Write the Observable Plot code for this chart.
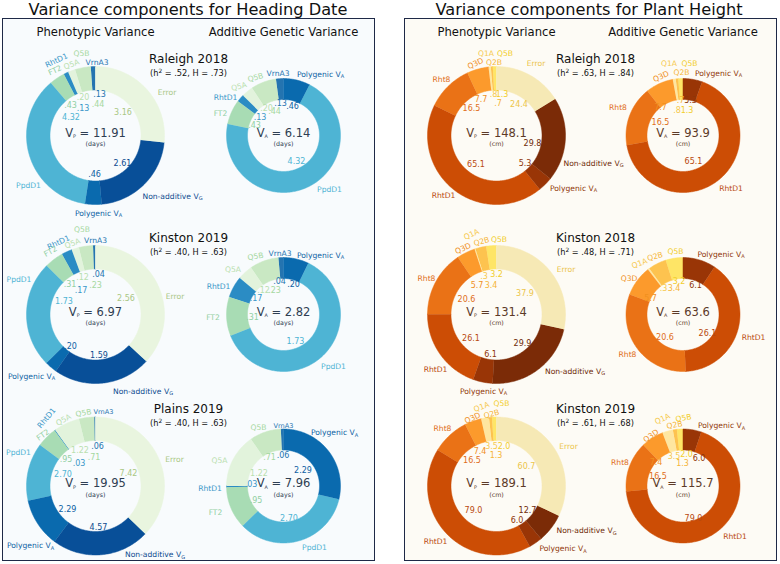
<!DOCTYPE html>
<html><head><meta charset="utf-8">
<script src="https://cdn.jsdelivr.net/npm/d3@7"></script>
<script src="https://cdn.jsdelivr.net/npm/@observablehq/plot@0.6"></script>
<style>
body{margin:0;background:#fff;font-family:"DejaVu Sans",sans-serif;}
#fig{position:relative;width:780px;height:564px;overflow:hidden;background:#fff;}
.title{position:absolute;top:1.5px;width:376px;font-size:16.2px;line-height:16.2px;text-align:center;color:#111;white-space:nowrap;}
.panel{position:absolute;top:18px;width:373px;height:543px;box-sizing:border-box;border:1.5px solid #1e2947;}
.plotbox{position:absolute;top:18px;width:373px;height:543px;}
</style></head>
<body>
<div id="fig">
  <div class="title" style="left:0px">Variance components for Heading Date</div>
  <div class="title" style="left:401px">Variance components for Plant Height</div>
  <div class="panel" style="left:2px;background:#f8fbfd"></div>
  <div class="panel" style="left:404px;background:#fdfbf5"></div>
  <div class="plotbox" id="hd" style="left:2px"></div>
  <div class="plotbox" id="ph" style="left:404px"></div>
</div>
<script>
// ---------------- DATA ----------------
// Heading date (days)
const hdComponents = ["VrnA3","Q5B","Q5A","RhtD1","FT2","PpdD1","Polygenic V_A","Non-additive V_G","Error"];
const hdSites = ["Raleigh 2018","Kinston 2019","Plains 2019"];
const hdH2 = [".52",".40",".40"];
const hdHbroad = [".73",".63",".63"];
const hdVP = ["11.91","6.97","19.95"];
const hdVA = ["6.14","2.82","7.96"];
const hdRaleigh2018 = [0.13,0.44,0.20,0.13,0.43,4.32,0.46,2.61,3.16];
const hdKinston2019 = [0.04,0.23,0.12,0.17,0.31,1.73,0.20,1.59,2.56];
const hdPlains2019  = [0.06,0.71,1.22,0.03,0.95,2.70,2.29,4.57,7.42];

// Plant height (cm)
const phComponents = ["Q5B","Q2B","Q1A","Q3D","Rht8","RhtD1","Polygenic V_A","Non-additive V_G","Error"];
const phSites = ["Raleigh 2018","Kinston 2018","Kinston 2019"];
const phH2 = [".63",".48",".61"];
const phHbroad = [".84",".71",".68"];
const phVP = ["148.1","131.4","189.1"];
const phVA = ["93.9","63.6","115.7"];
const phRaleigh2018 = [1.3,0.7,0.8,7.7,16.5,65.1,5.3,29.8,24.4];
const phKinston2018 = [3.2,3.4,0.3,5.7,20.6,26.1,6.1,29.9,37.9];
const phKinston2019 = [2.0,1.3,3.5,7.4,16.5,79.0,6.0,12.7,60.7];

// ---------------- STYLE / LAYOUT ----------------
const hdColors = ["#2474b0","#c9e8c3","#e2f3dc","#2b8cc4","#a8dcb4","#4eb4d4","#0a6aae","#084f98","#e9f5df"];
const hdText   = ["#2474b0","#a5d8a0","#b9e0ae","#3a97c8","#92d0a3","#4eb4d4","#0d5fa3","#0d4a8f","#a9c784"];
const phColors = ["#fee566","#fdc34f","#fee6a0","#fc9a2c","#ea7216","#cc4d05","#993506","#7b2b07","#f6e9b5"];
const phText   = ["#f2cd2a","#f5b537","#f6c94e","#f0901e","#e06d1a","#b9490f","#8f3508","#6f2a08","#ecc54a"];

const R_P = 69, r_P = 45.5, R_A = 57, r_A = 36;

// manual label placements (pixel offsets from the donut centre, optional rotation / font size)
const hdNameLayout = [
  [[[1.5,-73],[-14,-82],[-24,-71,-20],[-39,-75,-25],[-40.5,-65,-25],[-67,50],[3,78],[77,61],[71.5,-43]],
   [[-5.5,-62],[-28,-58,-15],[-44.5,-49,-15],[-58,-38],[-63,-22],[46,54],[37,-61]]],
  [[[0,-74],[-13.5,-85],[-23,-71,-20],[-37,-72,-25],[-45,-63,-30],[-76.5,-35],[-64,62],[47.5,77],[79.5,-18]],
   [[-3.5,-61],[-28,-58,-10],[-50.5,-45],[-65,-28],[-70.5,3],[50,52],[37,-59]]],
  [[[8,-74,0,6.6],[-12,-73,-10],[-32,-66,-30],[-49,-68,-50],[-52.5,-51,-35],[-77,-33],[-65,60],[59.5,69],[79,-26]],
   [[0,-60,0,6.6],[-25,-58],[-64,-25],[-73.5,3],[-68,27],[31,62],[51,-53]]]
];
const hdValueLayout = [
  [[[4,-41],[2.5,-31],[-12.5,-38],[-12.5,-27],[-25,-30],[-24.5,-18],[-1,39],[27,28],[27.5,-23]],
   [[-3,-32],[-9,-24],[-17,-27],[-23.5,-18],[-29,-10],[13,26],[9,-29]]],
  [[[3,-40],[0,-29],[-13,-37],[-14.5,-24],[-25.5,-30],[-31.5,-13],[-25,32],[3.5,41],[30.5,-16]],
   [[-4,-33],[-9,-24],[-20,-24],[-27.5,-16],[-31,3],[12,27],[10,-30]]],
  [[[2,-40],[-1.5,-29],[-15.5,-36],[-16.5,-23],[-29.5,-27],[-32.5,-12],[-28,23],[3,41],[33,-13]],
   [[-0.5,-31],[-14,-29],[-24.5,-13],[-32.5,-2],[-27.5,14],[5.5,32],[19.5,-16]]]
];
const phNameLayout = [
  [[[8.5,-82],[-2.5,-73],[-10.5,-82],[-21,-72,-25],[-55,-56],[-53,60],[77,53],[97,28],[39.5,-72]],
   [[6.5,-72],[-1.5,-63],[-14,-72],[-22,-59,-25],[-65,-28],[48,53],[35.5,-62]]],
  [[[2.5,-75],[-15,-73,-15],[-25,-80,-25],[-33.5,-66,-25],[-70,-36],[-61,55],[-13,77],[78.5,57],[69.5,-45]],
   [[-7.5,-63],[-28,-58,-15],[-43.5,-51,-20],[-54,-36],[-55.5,40],[70.5,23],[38,-60]]],
  [[[5,-82],[-5,-72,-15],[-15,-79,-20],[-24,-68,-25],[-54,-57],[-61,56],[66.5,63],[90,45],[72,-39]],
   [[0.5,-68,-10],[-8.5,-61,-10],[-20.5,-67,-25],[-32,-50,-35],[-63,-23],[52,51],[38.5,-60]]]
];
const phValueLayout = [
  [[[5.5,-41],[1.5,-32],[-3,-41],[-15.5,-36],[-25,-27],[-20.5,29],[28.5,28],[36,8],[22.5,-31]],
   [[4,-25],[-2.5,-35],[-6,-25],[-22.5,-28],[-22.5,-13],[10.5,26],[7.5,-35]]],
  [[[0,-40],[-5.5,-29],[-12.5,-38],[-19.5,-29],[-30,-15],[-25.5,24],[-6,40],[26,29],[28.5,-21]],
   [[-4,-33],[-9,-26],[-19.5,-26],[-32.5,-16],[-18,23],[24.5,19],[12.5,-29]]],
  [[[7.5,-40],[-0.5,-31],[-5,-40],[-16.5,-35],[-24.5,-26],[-23,24],[20.5,34],[31,24],[30,-20]],
   [[3.5,-32],[-0.5,-23],[-9,-30],[-27,-24],[-25,-10],[10.5,32],[16,-28]]]
];

const stripZero = s => s.replace(/^0\./, ".");
const panels = [
  {el:"hd", components:hdComponents, sites:hdSites, h2:hdH2, H:hdHbroad, VP:hdVP, VA:hdVA,
   values:[hdRaleigh2018,hdKinston2019,hdPlains2019], colors:hdColors, textColors:hdText,
   nameLayout:hdNameLayout, valueLayout:hdValueLayout, fmt:v=>stripZero(d3.format(".2f")(v)),
   unit:"(days)", centerColor:"#2f3e52", cx:[93,281], headX:186},
  {el:"ph", components:phComponents, sites:phSites, h2:phH2, H:phHbroad, VP:phVP, VA:phVA,
   values:[phRaleigh2018,phKinston2018,phKinston2019], colors:phColors, textColors:phText,
   nameLayout:phNameLayout, valueLayout:phValueLayout, fmt:v=>stripZero(d3.format(".1f")(v)),
   unit:"(cm)", centerColor:"#5c3a28", cx:[92,278.5], headX:191}
];
const rowY = [117, 296, 467.5];
const PW = 373, PH = 543;

function richify(root){
  const NS = "http://www.w3.org/2000/svg";
  root.querySelectorAll("text").forEach(t => {
    const s = t.textContent;
    if (!/[_^§]/.test(s)) return;
    const fs = parseFloat(getComputedStyle(t).fontSize) || 10;
    while (t.firstChild) t.removeChild(t.firstChild);
    let cur = 0, last = 0, m;
    const re = /([_^§])(.)/g;
    const add = (txt, size, dy) => {
      const ts = document.createElementNS(NS, "tspan");
      ts.textContent = txt;
      if (size) ts.setAttribute("font-size", size);
      if (dy) ts.setAttribute("dy", dy);
      t.appendChild(ts);
    };
    while ((m = re.exec(s))) {
      if (m.index > last) { add(s.slice(last, m.index), null, -cur); cur = 0; }
      const ratio = m[1] === "^" ? 0.72 : m[1] === "_" ? 0.66 : 0.42;
      const d = m[1] === "^" ? -0.36 * fs : (m[1] === "_" ? 0.2 * fs : 0.12 * fs);
      add(m[2], ratio * fs, d - cur); cur = d;
      last = re.lastIndex;
    }
    if (last < s.length) add(s.slice(last), null, -cur);
  });
}

panels.forEach(cfg => {
  const slices = [], names = [], vals = [], centers = [], units = [], heads = [], subs = [];
  cfg.sites.forEach((site, i) => {
    const cy = rowY[i];
    const full = cfg.values[i];
    const kinds = [
      {k:"P", cx:cfg.cx[0], R:R_P, r:r_P, vals:full, total:cfg.VP[i]},
      {k:"A", cx:cfg.cx[1], R:R_A, r:r_A, vals:full.slice(0,7), total:cfg.VA[i]}
    ];
    kinds.forEach((d, j) => {
      const sum = d3.sum(d.vals);
      let a = Math.PI / 2;
      d.vals.forEach((v, c) => {
        const span = 2 * Math.PI * v / sum, a0 = a, a1 = a + span; a = a1;
        const n = Math.max(2, Math.ceil(span / (Math.PI / 180)));
        const id = `${i}-${j}-${c}`, color = cfg.colors[c];
        for (let s = 0; s <= n; s++) { const t = a0 + (a1 - a0) * s / n; slices.push({id, color, x:d.cx + d.R * Math.cos(t), y:cy - d.R * Math.sin(t)}); }
        for (let s = n; s >= 0; s--) { const t = a0 + (a1 - a0) * s / n; slices.push({id, color, x:d.cx + d.r * Math.cos(t), y:cy - d.r * Math.sin(t)}); }
        const nl = cfg.nameLayout[i][j][c];
        names.push({x:d.cx + nl[0], y:cy + nl[1], rot:nl[2] || 0, size:nl[3] || 7.6, text:cfg.components[c], color:cfg.textColors[c]});
        const vl = cfg.valueLayout[i][j][c];
        vals.push({x:d.cx + vl[0], y:cy + vl[1], text:cfg.fmt(v), color:cfg.textColors[c]});
      });
      centers.push({x:d.cx, y:cy - 2.5, text:`V§${d.k} = ${d.total}`});
      units.push({x:d.cx, y:cy + 8.8, text:cfg.unit});
    });
    heads.push({x:cfg.headX, y:cy - 76.5, text:site});
    subs.push({x:cfg.headX, y:cy - 62.5, text:`(h^2 = ${cfg.h2[i]}, H = ${cfg.H[i]})`});
  });
  const colHeads = [
    {x:cfg.cx[0], y:13.7, text:"Phenotypic Variance"},
    {x:cfg.cx[1], y:13.7, text:"Additive Genetic Variance"}
  ];
  const plot = Plot.plot({
    width:PW, height:PH, margin:0,
    x:{domain:[0,PW], range:[0,PW], axis:null},
    y:{domain:[0,PH], range:[0,PH], axis:null},
    color:{type:"identity"},
    style:{background:"transparent", fontFamily:"DejaVu Sans", overflow:"visible"},
    marks:[
      Plot.line(slices, {x:"x", y:"y", z:"id", fill:"color", stroke:"color", strokeWidth:0.5, curve:"linear"}),
      Plot.text(vals, {x:"x", y:"y", text:"text", fill:"color", fontSize:8}),
      Plot.text(names, {x:"x", y:"y", text:"text", fill:"color", rotate:"rot", fontSize:"size"}),
      Plot.text(centers, {x:"x", y:"y", text:"text", fill:cfg.centerColor, fontSize:11.5}),
      Plot.text(units, {x:"x", y:"y", text:"text", fill:cfg.centerColor, fontSize:6.3}),
      Plot.text(heads, {x:"x", y:"y", text:"text", fill:"#111", fontSize:12}),
      Plot.text(subs, {x:"x", y:"y", text:"text", fill:"#111", fontSize:8.2}),
      Plot.text(colHeads, {x:"x", y:"y", text:"text", fill:"#111", fontSize:11.6})
    ]
  });
  document.getElementById(cfg.el).appendChild(plot);
  richify(plot);
});
</script>
</body></html>
